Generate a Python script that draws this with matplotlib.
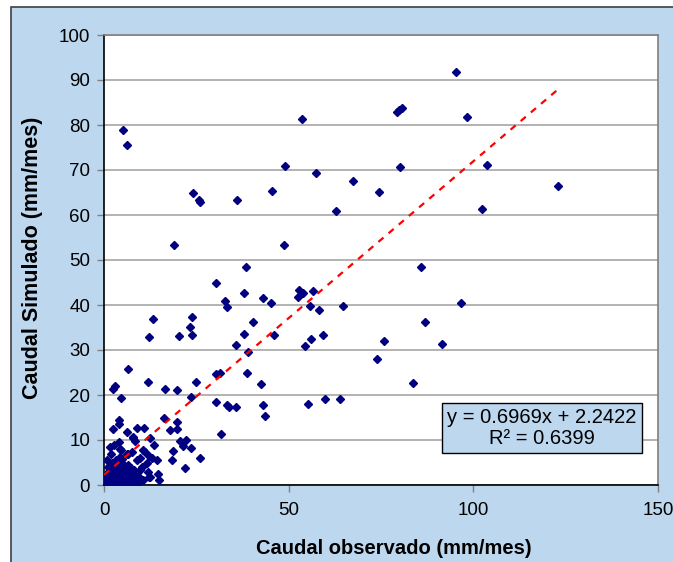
import matplotlib
matplotlib.use("Agg")
import matplotlib.pyplot as plt
from matplotlib.patches import Rectangle

plt.rcParams['font.family'] = ['Liberation Sans', 'DejaVu Sans']

# Observed (x) and simulated (y) monthly flow (mm/mes)
observado = [
    95.2, 53.5, 79.3, 79.9, 80.6, 98.2, 49.0, 57.3, 67.5, 74.5, 80.2, 103.7, 122.8, 62.9, 102.3,
    48.8, 85.7, 52.8, 54.0, 52.6, 56.5, 55.7, 58.2, 64.8, 96.6, 87.0, 59.4, 56.1, 54.3, 75.8,
    91.4, 73.8, 83.7, 59.8, 63.9, 55.2,
    5.2, 6.2, 24.0, 25.7, 26.1, 36.1, 45.4,
    19.0, 38.4, 30.3, 37.8, 32.8, 33.4, 43.0, 45.3, 13.2, 12.1, 23.9, 23.2, 20.4, 23.9, 40.4,
    37.8, 46.0, 35.7, 39.1, 6.6, 30.3, 31.5, 38.6, 11.8, 25.0, 42.4, 3.0, 2.5, 16.6, 19.7,
    23.6, 30.2, 33.2, 33.8, 35.8, 43.1, 43.6, 19.8, 19.8, 17.9, 31.8, 20.6, 22.2, 21.5, 23.5,
    18.6, 18.3, 26.0, 22.0,
    4.7, 4.1, 4.1, 2.5, 8.8, 10.9, 16.2, 6.3, 4.1, 7.9, 8.4, 12.5, 13.6, 4.2, 6.4, 10.6, 11.1,
    9.7, 8.9, 12.2, 12.9, 14.3, 11.6, 10.2, 9.7, 12.0, 12.2, 14.7, 14.9, 7.9, 4.7, 6.1, 7.5,
    4.3, 3.9, 2.5, 12.5, 10.6,
    0.3, 0.5, 0.8, 1.0, 1.2, 1.5, 1.6, 1.8, 2.0, 2.1, 2.3, 2.5, 2.6, 2.8, 3.0, 3.1, 3.3, 3.4,
    3.6, 3.7, 3.9, 4.0, 4.2, 4.3, 4.5, 4.6, 4.8, 4.9, 5.1, 5.2, 5.4, 5.5, 5.7, 5.8, 6.0, 6.1,
    6.3, 6.5, 6.6, 6.8, 7.0, 7.1, 7.3, 7.5, 7.6, 7.8, 8.0, 8.2, 8.4, 8.6, 8.9, 9.2, 9.5, 2.2,
    1.4, 0.9, 3.2, 1.1, 5.0, 0.6, 1.9, 4.4, 6.9, 9.0, 1.5, 2.8, 1.8, 0.8,
]
simulado = [
    91.8, 81.3, 83.0, 83.3, 83.7, 81.7, 71.0, 69.3, 67.6, 65.1, 70.6, 71.2, 66.4, 60.9, 61.3,
    53.3, 48.4, 43.3, 42.6, 41.7, 43.2, 39.8, 39.0, 39.8, 40.4, 36.2, 33.3, 32.5, 31.0, 31.9,
    31.4, 27.9, 22.7, 19.1, 19.1, 18.0,
    79.0, 75.5, 64.8, 63.3, 63.0, 63.3, 65.3,
    53.3, 48.4, 44.8, 42.6, 41.0, 39.5, 41.6, 40.5, 36.8, 33.0, 37.3, 35.2, 33.2, 33.3, 36.3,
    33.6, 33.3, 31.1, 29.6, 25.7, 24.7, 25.0, 24.9, 22.9, 22.8, 22.5, 22.1, 21.3, 21.3, 21.1,
    19.5, 18.4, 17.8, 17.4, 17.3, 17.7, 15.3, 14.1, 12.4, 12.2, 11.3, 9.8, 10.1, 8.7, 8.3,
    7.6, 5.5, 5.9, 3.7,
    19.3, 14.4, 13.5, 12.4, 12.6, 12.7, 15.0, 11.8, 9.6, 10.4, 9.8, 10.4, 8.9, 7.9, 7.0, 7.8, 7.3,
    6.1, 5.6, 6.4, 5.9, 5.6, 5.0, 3.9, 3.3, 3.0, 1.8, 2.4, 1.1, 10.7, 7.8, 7.0, 7.4,
    6.3, 5.6, 4.1, 1.8, 1.1,
    0.2, 0.8, 0.3, 1.2, 0.5, 1.8, 0.9, 0.2, 2.5, 1.4, 0.6, 3.0, 1.9, 0.9, 2.3, 0.3, 3.5, 1.5,
    2.8, 0.7, 4.2, 2.0, 1.1, 3.3, 0.4, 2.6, 4.8, 1.6, 3.0, 0.8, 2.2, 4.0, 1.2, 3.5, 0.5, 2.7,
    1.8, 4.4, 0.9, 3.1, 2.0, 1.0, 3.8, 0.6, 2.5, 1.5, 3.3, 0.8, 2.1, 1.3, 0.5, 1.9, 0.9, 5.0,
    3.2, 2.4, 5.6, 4.1, 5.8, 1.6, 0.1, 0.2, 0.2, 0.3, 8.5, 9.0, 6.8, 5.5,
]

slope = 0.6969
intercept = 2.2422
r2 = 0.6399
trend_x = [0.0, 122.8]

x_ticks = [0, 50, 100, 150]
y_ticks = [0, 10, 20, 30, 40, 50, 60, 70, 80, 90, 100]

W, H = 673, 562
fig = plt.figure(figsize=(W / 100, H / 100), dpi=100)
fig.patch.set_facecolor('white')

bg = '#BDD7EE'
rect = Rectangle((11 / W, -0.05), 1.2, 1 - 7 / H + 0.05,
                 transform=fig.transFigure, facecolor=bg,
                 edgecolor='#404040', linewidth=1.2, zorder=-10)
fig.add_artist(rect)

ax = fig.add_axes([104 / W, 1 - 485 / H, (658 - 104) / W, (485 - 35) / H])
ax.set_zorder(1)
ax.set_facecolor('white')

ax.set_xlim(0, 150)
ax.set_ylim(0, 100)
ax.set_xticks(x_ticks)
ax.set_yticks(y_ticks)
ax.yaxis.grid(True, color='#A6A6A6', linewidth=1.2)
ax.set_axisbelow(True)

for s in ['left', 'bottom']:
    ax.spines[s].set_color('black')
    ax.spines[s].set_linewidth(1.2)
for s in ['top', 'right']:
    ax.spines[s].set_color('#808080')
    ax.spines[s].set_linewidth(1.2)

ax.tick_params(axis='both', direction='out', length=5, width=1, color='#808080',
               labelsize=13.5, labelcolor='black')
ax.tick_params(axis='x', pad=7)
ax.tick_params(axis='y', pad=5)

ax.plot(observado, simulado, linestyle='none', marker='D', markersize=4.5,
        color='#000080', markeredgecolor='#000080', zorder=3)

trend_y = [slope * v + intercept for v in trend_x]
ax.plot(trend_x, trend_y, color='red', linestyle=(0, (3, 3)), linewidth=1.6, zorder=4)

ax.set_xlabel('Caudal observado (mm/mes)', fontsize=14.5, fontweight='bold')
ax.xaxis.set_label_coords((394 - 104) / 554, (485 - 548) / 450)
ax.xaxis.label.set_va('center')
ax.set_ylabel('Caudal Simulado (mm/mes)', fontsize=15.5, fontweight='bold')
ax.yaxis.set_label_coords((33 - 104) / 554, (485 - 258) / 450)
ax.yaxis.label.set_va('center')

eq = f'y = {slope:.4f}x + {intercept:.4f}\nR² = {r2:.4f}'
ax.text((542 - 104) / 554, (485 - 428) / 450, eq, transform=ax.transAxes,
        ha='center', va='center', fontsize=14.5, linespacing=1.1,
        multialignment='center', zorder=5,
        bbox=dict(boxstyle='square,pad=0.25', facecolor=bg, edgecolor='black', linewidth=1))

fig.savefig('out.png', dpi=100)
